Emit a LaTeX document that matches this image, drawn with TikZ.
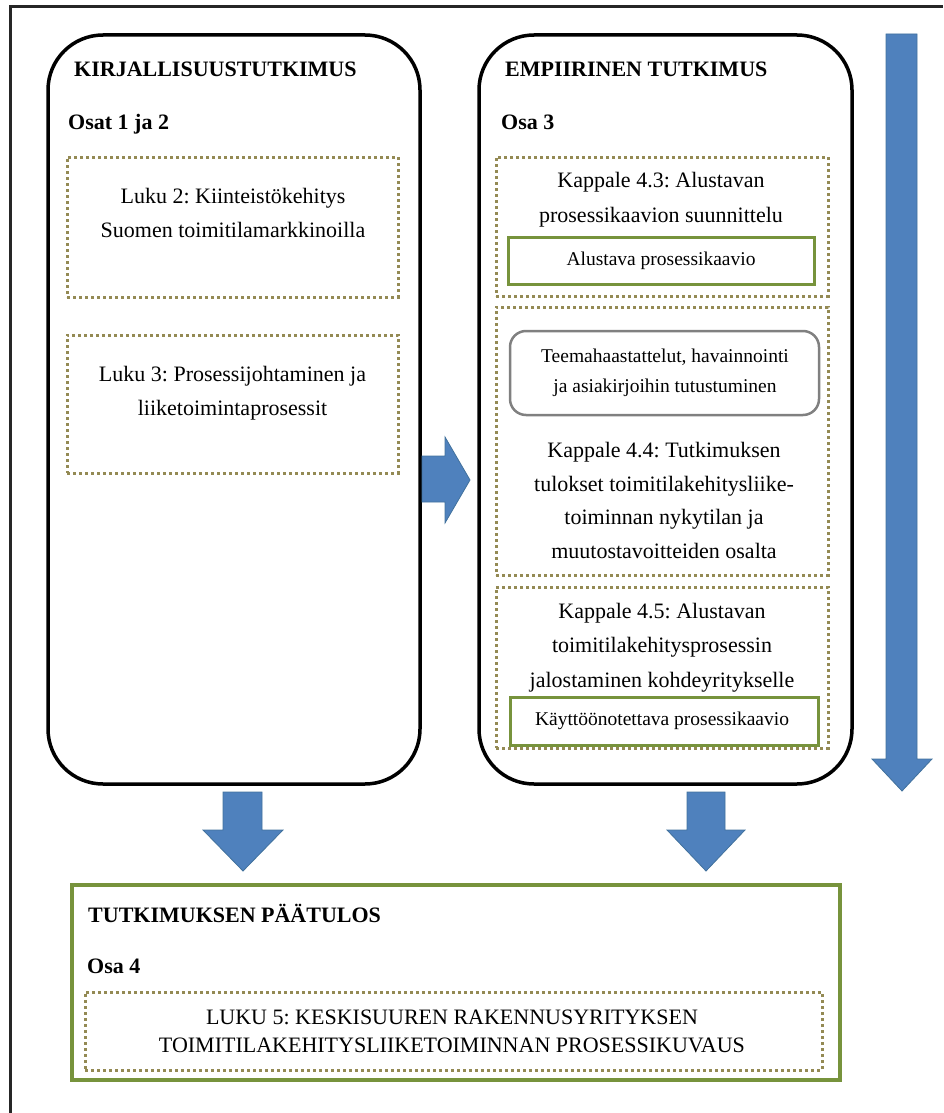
\documentclass[tikz,border=0pt]{standalone}
\usepackage{fontspec}
\setmainfont{Liberation Serif}
\definecolor{dotc}{RGB}{148,138,84}
\definecolor{grn}{RGB}{119,147,60}
\definecolor{blu}{RGB}{79,129,189}
\definecolor{bluedge}{RGB}{65,113,156}
\definecolor{framec}{RGB}{38,38,38}
\begin{document}
\frenchspacing
\begin{tikzpicture}[x=1pt,y=-1pt,
  box/.style={anchor=north west, inner sep=0pt, outer sep=0pt},
  bigbox/.style={box, draw=black, line width=3.5pt, rounded corners=55pt},
  dotbox/.style={box, draw=dotc, line width=3pt, dash pattern=on 3pt off 3pt},
  greenbox/.style={box, draw=grn, line width=3pt},
  graybox/.style={box, draw=gray, line width=2.5pt, rounded corners=16pt},
  txt/.style={inner sep=0pt, align=center, anchor=base, font=\fontsize{22}{34}\selectfont},
  small/.style={inner sep=0pt, align=center, anchor=base, font=\fontsize{19.5}{30}\selectfont},
  head/.style={inner sep=0pt, anchor=base west, font=\fontsize{22}{26}\selectfont\bfseries},
  blockarrow/.style={fill=blu, draw=bluedge, line width=0.8pt, line join=miter}
]
\useasboundingbox (0,0) rectangle (943,1113);
% outer frame
\draw[framec, line width=3pt] (10,1113) -- (10,7) -- (943,7);

% left column
\node[bigbox, minimum width=372pt, minimum height=749pt] (lit) at (48,35) {};
\node[head] (litt) at (74,77) {KIRJALLISUUSTUTKIMUS};
\node[head] (lito) at (68,129) {Osat 1 ja 2};
\node[dotbox, minimum width=331pt, minimum height=140pt] (d2) at (67,157) {};
\node[txt] (d2t) at (233,237) {Luku 2: Kiinteistökehitys\\Suomen toimitilamarkkinoilla};
\node[dotbox, minimum width=331pt, minimum height=138pt] (d3) at (67,335) {};
\node[txt] (d3t) at (232.5,415) {Luku 3: Prosessijohtaminen ja\\liiketoimintaprosessit};

% middle column
\node[bigbox, minimum width=373pt, minimum height=749pt] (emp) at (479,35) {};
\node[head] (empt) at (505,77) {EMPIIRINEN TUTKIMUS};
\node[head] (empo) at (501,129) {Osa 3};
\node[dotbox, minimum width=332pt, minimum height=139pt] (d43) at (496,157) {};
\node[txt, font=\fontsize{22}{35}\selectfont] (d43t) at (661,222) {Kappale 4.3: Alustavan\\prosessikaavion suunnittelu};
\node[greenbox, minimum width=306pt, minimum height=47pt] (g43) at (508,237) {};
\node[small] (g43t) at (661,265) {Alustava prosessikaavio};
\node[dotbox, minimum width=332pt, minimum height=268pt] (d44) at (496,307) {};
\node[graybox, minimum width=309pt, minimum height=84pt] (gr) at (510,331) {};
\node[small] (grt) at (665,392) {Teemahaastattelut, havainnointi\\ja asiakirjoihin tutustuminen};
\node[txt, font=\fontsize{22}{33.5}\selectfont] (d44t) at (664,558) {Kappale 4.4: Tutkimuksen\\tulokset toimitilakehitysliike-\\toiminnan nykytilan ja\\muutostavoitteiden osalta};
\node[dotbox, minimum width=332pt, minimum height=161pt] (d45) at (496,587) {};
\node[txt, font=\fontsize{22}{34.5}\selectfont] (d45t) at (662,687) {Kappale 4.5: Alustavan\\toimitilakehitysprosessin\\jalostaminen kohdeyritykselle};
\node[greenbox, minimum width=308pt, minimum height=48pt] (g45) at (510,697) {};
\node[small] (g45t) at (662,725) {Käyttöönotettava prosessikaavio};

% result box
\node[greenbox, line width=4pt, minimum width=768pt, minimum height=195pt] (res) at (72,885) {};
\node[head] (rest) at (88,922) {TUTKIMUKSEN PÄÄTULOS};
\node[head] (reso) at (87,973) {Osa 4};
\node[dotbox, minimum width=737pt, minimum height=78pt] (d5) at (85,992) {};
\node[txt, font=\fontsize{22}{28}\selectfont] (d5t) at (452,1052) {LUKU 5: KESKISUUREN RAKENNUSYRITYKSEN\\TOIMITILAKEHITYSLIIKETOIMINNAN PROSESSIKUVAUS};

% block arrows
\draw[blockarrow] (422,456) -- (445,456) -- (445,437) -- (470,480) -- (445,523) -- (445,502) -- (422,502) -- cycle;
\draw[blockarrow] (223,792) -- (262,792) -- (262,830) -- (283,830) -- (243,871) -- (203,830) -- (223,830) -- cycle;
\draw[blockarrow] (687,792) -- (725,792) -- (725,830) -- (745,830) -- (706,871) -- (667,830) -- (687,830) -- cycle;
\draw[blockarrow] (886,34) -- (917,34) -- (917,759) -- (932,759) -- (902,791) -- (872,759) -- (886,759) -- cycle;
\end{tikzpicture}
\end{document}
